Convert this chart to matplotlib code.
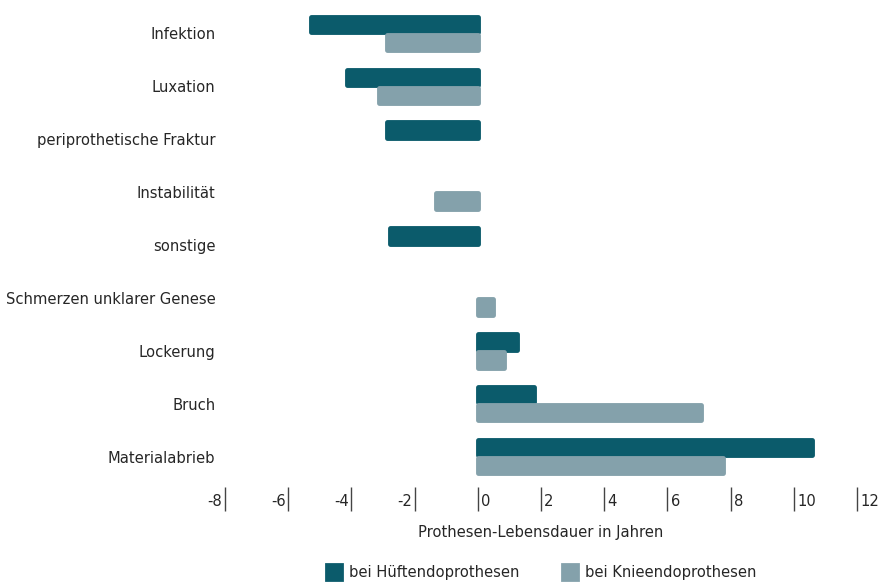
import matplotlib
matplotlib.use("Agg")
import matplotlib.pyplot as plt
import matplotlib.patheffects as pe
from matplotlib.patches import Patch
import numpy as np

plt.rcParams['font.family'] = ['DejaVu Sans']
plt.rcParams['font.stretch'] = 'condensed'

categories = ["Infektion", "Luxation", "periprothetische Fraktur", "Instabilität",
              "sonstige", "Schmerzen unklarer Genese", "Lockerung", "Bruch",
              "Materialabrieb"]
hip = [-5.28, -4.15, -2.88, 0, -2.78, 0, 1.23, 1.77, 10.57]
knee = [-2.88, -3.13, 0, -1.33, 0, 0.47, 0.82, 7.06, 7.75]
xticks = [-8, -6, -4, -2, 0, 2, 4, 6, 8, 10, 12]
series_names = ["bei Hüftendoprothesen", "bei Knieendoprothesen"]

c_hip = "#0b5b6b"
c_knee = "#84a1ab"
txt = "#262626"
fs = 11.8

fig = plt.figure(figsize=(8.8, 5.83), dpi=100)
ax = fig.add_axes([225/880, 1-483/583, (857-225)/880, (483-7)/583])

y = np.arange(len(categories))
h = 0.34
lw = 3.5
shadow = [pe.SimplePatchShadow(offset=(1.2, -1.2), shadow_rgbFace='#000000', alpha=0.25),
          pe.Normal()]

for vals, col, off in [(hip, c_hip, -h/2), (knee, c_knee, h/2)]:
    bars = ax.barh(y + off, vals, height=h*0.86, color=col, edgecolor=col,
                   linewidth=lw, zorder=3)
    for b, v in zip(bars, vals):
        b.set_joinstyle('round')
        b.set_path_effects(shadow)
        if v == 0:
            b.set_visible(False)

ax.set_xlim(-8, 12)
ax.set_ylim(len(categories) - 0.5, -0.5)
ax.set_yticks(y)
ax.set_yticklabels(categories, fontsize=fs, color=txt)
ax.tick_params(axis='y', length=0, pad=7)

ax.set_xticks(xticks)
ax.set_xticklabels([])
ax.tick_params(axis='x', length=17, width=1.0, color='#444444', direction='out')
ax.spines['bottom'].set_position(('outward', 3))
for s in ax.spines.values():
    s.set_visible(False)

trans = ax.get_xaxis_transform()
for t in xticks:
    if t < 0:
        ax.text(t - 0.08, -0.039, str(t), transform=trans, ha='right', va='center',
                fontsize=fs, color=txt)
    else:
        ax.text(t + 0.1, -0.039, str(t), transform=trans, ha='left', va='center',
                fontsize=fs, color=txt)

fig.text(541/880, 1-532/583, "Prothesen-Lebensdauer in Jahren", ha='center', va='center',
         fontsize=fs, color=txt)

handles = [Patch(facecolor=c_hip, edgecolor=c_hip, linewidth=2, joinstyle='round'),
           Patch(facecolor=c_knee, edgecolor=c_knee, linewidth=2, joinstyle='round')]
fig.legend(handles, series_names, loc='center', bbox_to_anchor=(541/880, 1-572/583),
           ncol=2, frameon=False, fontsize=fs, handlelength=1.0, handleheight=1.1,
           handletextpad=0.4, columnspacing=2.6, labelcolor=txt)

fig.savefig("out.png", dpi=100)
